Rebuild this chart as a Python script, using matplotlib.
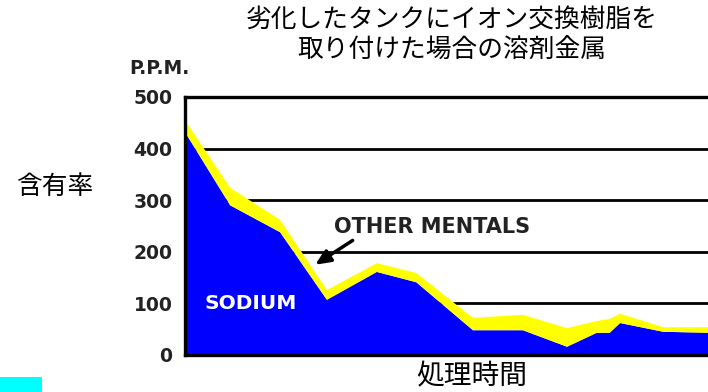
import matplotlib
matplotlib.use("Agg")
import matplotlib.pyplot as plt
from matplotlib.patches import Rectangle

plt.rcParams['font.family'] = ['Noto Sans CJK JP', 'DejaVu Sans']

# Data (time in arbitrary units, values in P.P.M.)
time = [0, 8.7, 18.3, 27.3, 36.9, 44.5, 55.4, 65, 73.5, 79.2, 81.7, 83.7, 92, 101]
sodium = [432, 290, 238, 107, 161, 141, 48, 48, 16, 43, 43, 62, 45, 43]
total = [455, 324, 262, 126, 178, 159, 72, 78, 52, 66, 70, 80, 54, 54]
other_metals = [t - s for t, s in zip(total, sodium)]
yticks = [0, 100, 200, 300, 400, 500]
gridvals = [100, 200, 300, 400]

title = "劣化したタンクにイオン交換樹脂を\n取り付けた場合の溶剤金属"
ylabel = "含有率"
xlabel = "処理時間"
unit = "P.P.M."

fig = plt.figure(figsize=(7.08, 3.92), dpi=100)
ax = fig.add_axes([185/708, 37/392, 525/708, 258/392])

for g in gridvals:
    ax.axhline(g, color='black', lw=2.0, zorder=1)

ax.stackplot(time, sodium, other_metals, colors=['#0000FF', '#FFFF00'],
             linewidth=0, zorder=2)

ax.set_xlim(0, 101)
ax.set_ylim(0, 500)
ax.set_xticks([])
ax.set_yticks(yticks)
ax.set_yticklabels([str(v) for v in yticks], fontweight='bold',
                   family='DejaVu Sans', fontsize=13.5, color='#222222')
ax.tick_params(axis='y', length=0, pad=9)
for s in ax.spines.values():
    s.set_linewidth(2.4)
    s.set_zorder(5)

ax.text(12.6, 100, "SODIUM", color='white', fontweight='bold',
        family='DejaVu Sans', fontsize=14.5, ha='center', va='center', zorder=4)
ax.text(47.5, 248, "OTHER MENTALS", color='#222222', fontweight='bold',
        family='DejaVu Sans', fontsize=15, ha='center', va='center', zorder=4)
ax.annotate("", xy=(24.6, 172), xytext=(32.7, 225),
            arrowprops=dict(arrowstyle='-|>,head_length=0.9,head_width=0.4',
                            color='black', lw=2.5), zorder=4)

fig.text(452/708, 1 - 8/392, title, ha='center', va='top', fontsize=18.5,
         linespacing=1.18)
fig.text(159/708, 1 - 68/392, unit, ha='center', va='center', fontsize=13.5,
         fontweight='bold', family='DejaVu Sans', color='#222222')
fig.text(55/708, 1 - 187/392, ylabel, ha='center', va='center', fontsize=18.5)
fig.text(472/708, 1 - 376/392, xlabel, ha='center', va='center', fontsize=20)

fig.patches.append(Rectangle((0, 0), 42/708, 15/392, transform=fig.transFigure,
                             facecolor='#00FFFF', edgecolor='none'))

fig.savefig("out.png", dpi=100)
